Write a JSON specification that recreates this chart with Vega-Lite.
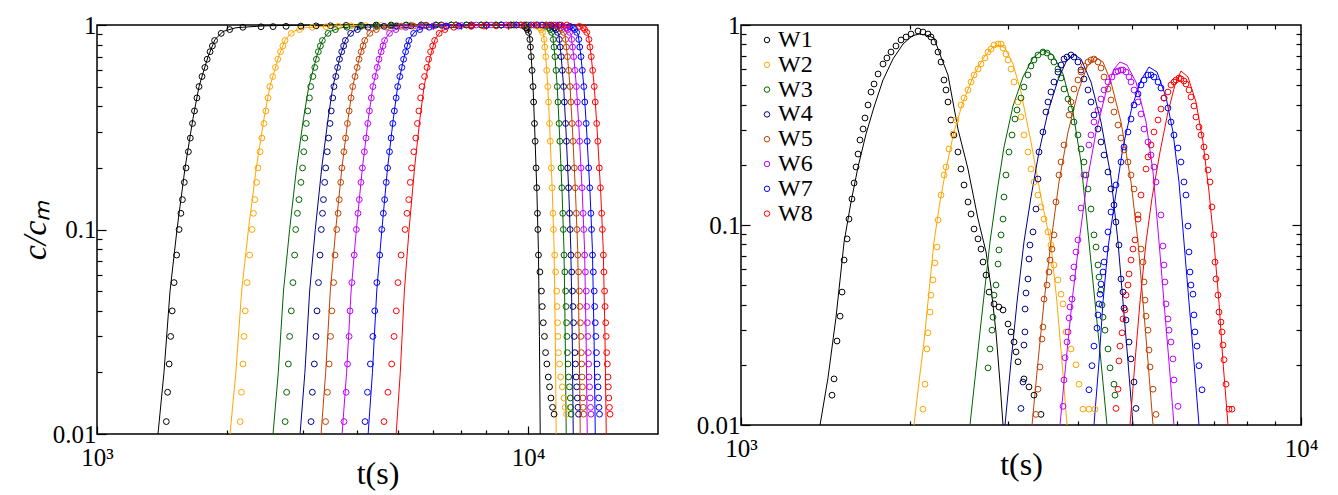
{
"$schema":"https://vega.github.io/schema/vega-lite/v6.json",
"background":"white",
"padding":{"left":17,"top":12,"right":5,"bottom":5},
"config":{"view":{"stroke":"black","strokeWidth":1.5},"font":"Liberation Serif",
"axis":{"labelFont":"Liberation Serif","titleFont":"Liberation Serif","labelColor":"black","titleColor":"black","tickColor":"black","labelFontSize":25,"titleFontSize":32,"titleFontWeight":"normal","domain":false,"grid":false,"tickWidth":1.2,"labelOverlap":false,"labelFlush":false}},
"datasets":{
"LL":[
{"s":"W1","t":1334,"c":0.004},{"s":"W1","t":1385,"c":0.01},{"s":"W1","t":1430,"c":0.02},{"s":"W1","t":1477,"c":0.05},{"s":"W1","t":1533,"c":0.1},{"s":"W1","t":1600,"c":0.2},{"s":"W1","t":1670,"c":0.35},{"s":"W1","t":1724,"c":0.5},{"s":"W1","t":1809,"c":0.7},{"s":"W1","t":1878,"c":0.85},{"s":"W1","t":1961,"c":0.93},{"s":"W1","t":2101,"c":0.97},{"s":"W1","t":2427,"c":0.99},{"s":"W1","t":3087,"c":1},{"s":"W1","t":9563,"c":1},{"s":"W1","t":9748,"c":0.99},{"s":"W1","t":9906,"c":0.97},{"s":"W1","t":10066,"c":0.9},{"s":"W1","t":10163,"c":0.7},{"s":"W1","t":10261,"c":0.5},{"s":"W1","t":10359,"c":0.3},{"s":"W1","t":10477,"c":0.15},{"s":"W1","t":10561,"c":0.08},{"s":"W1","t":10618,"c":0.03},{"s":"W1","t":10663,"c":0.01},{"s":"W1","t":10692,"c":0.004},
{"s":"W2","t":1963,"c":0.004},{"s":"W2","t":2035,"c":0.01},{"s":"W2","t":2099,"c":0.02},{"s":"W2","t":2165,"c":0.05},{"s":"W2","t":2245,"c":0.1},{"s":"W2","t":2341,"c":0.2},{"s":"W2","t":2440,"c":0.35},{"s":"W2","t":2517,"c":0.5},{"s":"W2","t":2637,"c":0.7},{"s":"W2","t":2734,"c":0.85},{"s":"W2","t":2850,"c":0.93},{"s":"W2","t":3049,"c":0.97},{"s":"W2","t":3508,"c":0.99},{"s":"W2","t":4428,"c":1},{"s":"W2","t":10229,"c":1},{"s":"W2","t":10459,"c":0.99},{"s":"W2","t":10657,"c":0.97},{"s":"W2","t":10858,"c":0.9},{"s":"W2","t":10981,"c":0.7},{"s":"W2","t":11105,"c":0.5},{"s":"W2","t":11230,"c":0.3},{"s":"W2","t":11378,"c":0.15},{"s":"W2","t":11485,"c":0.08},{"s":"W2","t":11558,"c":0.03},{"s":"W2","t":11614,"c":0.01},{"s":"W2","t":11649,"c":0.004},
{"s":"W3","t":2478,"c":0.004},{"s":"W3","t":2560,"c":0.01},{"s":"W3","t":2633,"c":0.02},{"s":"W3","t":2707,"c":0.05},{"s":"W3","t":2797,"c":0.1},{"s":"W3","t":2903,"c":0.2},{"s":"W3","t":3013,"c":0.35},{"s":"W3","t":3098,"c":0.5},{"s":"W3","t":3231,"c":0.7},{"s":"W3","t":3338,"c":0.85},{"s":"W3","t":3465,"c":0.93},{"s":"W3","t":3680,"c":0.97},{"s":"W3","t":4173,"c":0.99},{"s":"W3","t":5143,"c":1},{"s":"W3","t":10691,"c":1},{"s":"W3","t":10951,"c":0.99},{"s":"W3","t":11173,"c":0.97},{"s":"W3","t":11399,"c":0.9},{"s":"W3","t":11536,"c":0.7},{"s":"W3","t":11676,"c":0.5},{"s":"W3","t":11817,"c":0.3},{"s":"W3","t":11986,"c":0.15},{"s":"W3","t":12105,"c":0.08},{"s":"W3","t":12186,"c":0.03},{"s":"W3","t":12252,"c":0.01},{"s":"W3","t":12291,"c":0.004},
{"s":"W4","t":2871,"c":0.004},{"s":"W4","t":2958,"c":0.01},{"s":"W4","t":3035,"c":0.02},{"s":"W4","t":3113,"c":0.05},{"s":"W4","t":3208,"c":0.1},{"s":"W4","t":3320,"c":0.2},{"s":"W4","t":3436,"c":0.35},{"s":"W4","t":3525,"c":0.5},{"s":"W4","t":3662,"c":0.7},{"s":"W4","t":3774,"c":0.85},{"s":"W4","t":3905,"c":0.93},{"s":"W4","t":4129,"c":0.97},{"s":"W4","t":4634,"c":0.99},{"s":"W4","t":5617,"c":1},{"s":"W4","t":10998,"c":1},{"s":"W4","t":11284,"c":0.99},{"s":"W4","t":11527,"c":0.97},{"s":"W4","t":11777,"c":0.9},{"s":"W4","t":11928,"c":0.7},{"s":"W4","t":12082,"c":0.5},{"s":"W4","t":12239,"c":0.3},{"s":"W4","t":12424,"c":0.15},{"s":"W4","t":12557,"c":0.08},{"s":"W4","t":12652,"c":0.03},{"s":"W4","t":12719,"c":0.01},{"s":"W4","t":12760,"c":0.004},
{"s":"W5","t":3215,"c":0.004},{"s":"W5","t":3309,"c":0.01},{"s":"W5","t":3391,"c":0.02},{"s":"W5","t":3476,"c":0.05},{"s":"W5","t":3578,"c":0.1},{"s":"W5","t":3698,"c":0.2},{"s":"W5","t":3823,"c":0.35},{"s":"W5","t":3918,"c":0.5},{"s":"W5","t":4065,"c":0.7},{"s":"W5","t":4184,"c":0.85},{"s":"W5","t":4323,"c":0.93},{"s":"W5","t":4560,"c":0.97},{"s":"W5","t":5099,"c":0.99},{"s":"W5","t":6135,"c":1},{"s":"W5","t":11314,"c":1},{"s":"W5","t":11626,"c":0.99},{"s":"W5","t":11894,"c":0.97},{"s":"W5","t":12167,"c":0.9},{"s":"W5","t":12334,"c":0.7},{"s":"W5","t":12503,"c":0.5},{"s":"W5","t":12675,"c":0.3},{"s":"W5","t":12876,"c":0.15},{"s":"W5","t":13026,"c":0.08},{"s":"W5","t":13127,"c":0.03},{"s":"W5","t":13204,"c":0.01},{"s":"W5","t":13253,"c":0.004},
{"s":"W6","t":3599,"c":0.004},{"s":"W6","t":3702,"c":0.01},{"s":"W6","t":3792,"c":0.02},{"s":"W6","t":3884,"c":0.05},{"s":"W6","t":3995,"c":0.1},{"s":"W6","t":4126,"c":0.2},{"s":"W6","t":4260,"c":0.35},{"s":"W6","t":4364,"c":0.5},{"s":"W6","t":4524,"c":0.7},{"s":"W6","t":4652,"c":0.85},{"s":"W6","t":4804,"c":0.93},{"s":"W6","t":5061,"c":0.97},{"s":"W6","t":5639,"c":0.99},{"s":"W6","t":6755,"c":1},{"s":"W6","t":11639,"c":1},{"s":"W6","t":11980,"c":0.99},{"s":"W6","t":12272,"c":0.97},{"s":"W6","t":12571,"c":0.9},{"s":"W6","t":12753,"c":0.7},{"s":"W6","t":12939,"c":0.5},{"s":"W6","t":13127,"c":0.3},{"s":"W6","t":13350,"c":0.15},{"s":"W6","t":13512,"c":0.08},{"s":"W6","t":13623,"c":0.03},{"s":"W6","t":13708,"c":0.01},{"s":"W6","t":13759,"c":0.004},
{"s":"W7","t":4142,"c":0.004},{"s":"W7","t":4254,"c":0.01},{"s":"W7","t":4353,"c":0.02},{"s":"W7","t":4454,"c":0.05},{"s":"W7","t":4578,"c":0.1},{"s":"W7","t":4719,"c":0.2},{"s":"W7","t":4868,"c":0.35},{"s":"W7","t":4981,"c":0.5},{"s":"W7","t":5157,"c":0.7},{"s":"W7","t":5296,"c":0.85},{"s":"W7","t":5463,"c":0.93},{"s":"W7","t":5744,"c":0.97},{"s":"W7","t":6373,"c":0.99},{"s":"W7","t":7578,"c":1},{"s":"W7","t":12038,"c":1},{"s":"W7","t":12410,"c":0.99},{"s":"W7","t":12730,"c":0.97},{"s":"W7","t":13057,"c":0.9},{"s":"W7","t":13257,"c":0.7},{"s":"W7","t":13461,"c":0.5},{"s":"W7","t":13668,"c":0.3},{"s":"W7","t":13915,"c":0.15},{"s":"W7","t":14090,"c":0.08},{"s":"W7","t":14213,"c":0.03},{"s":"W7","t":14307,"c":0.01},{"s":"W7","t":14365,"c":0.004},
{"s":"W8","t":4816,"c":0.004},{"s":"W8","t":4941,"c":0.01},{"s":"W8","t":5051,"c":0.02},{"s":"W8","t":5162,"c":0.05},{"s":"W8","t":5293,"c":0.1},{"s":"W8","t":5451,"c":0.2},{"s":"W8","t":5611,"c":0.35},{"s":"W8","t":5735,"c":0.5},{"s":"W8","t":5925,"c":0.7},{"s":"W8","t":6080,"c":0.85},{"s":"W8","t":6258,"c":0.93},{"s":"W8","t":6559,"c":0.97},{"s":"W8","t":7237,"c":0.99},{"s":"W8","t":8524,"c":1},{"s":"W8","t":12651,"c":1},{"s":"W8","t":13064,"c":0.99},{"s":"W8","t":13418,"c":0.97},{"s":"W8","t":13781,"c":0.9},{"s":"W8","t":14004,"c":0.7},{"s":"W8","t":14231,"c":0.5},{"s":"W8","t":14460,"c":0.3},{"s":"W8","t":14733,"c":0.15},{"s":"W8","t":14931,"c":0.08},{"s":"W8","t":15068,"c":0.03},{"s":"W8","t":15172,"c":0.01},{"s":"W8","t":15237,"c":0.004}
],
"LP":[
{"s":"W1","t":1448,"c":0.0115},{"s":"W1","t":1458,"c":0.016},{"s":"W1","t":1470,"c":0.022},{"s":"W1","t":1482,"c":0.03},{"s":"W1","t":1494,"c":0.04},{"s":"W1","t":1509,"c":0.055},{"s":"W1","t":1530,"c":0.075},{"s":"W1","t":1550,"c":0.1},{"s":"W1","t":1578,"c":0.14},{"s":"W1","t":1609,"c":0.2},{"s":"W1","t":1646,"c":0.28},{"s":"W1","t":1683,"c":0.38},{"s":"W1","t":1724,"c":0.5},{"s":"W1","t":1779,"c":0.62},{"s":"W1","t":1829,"c":0.74},{"s":"W1","t":1874,"c":0.84},{"s":"W1","t":1941,"c":0.91},{"s":"W1","t":2031,"c":0.95},{"s":"W1","t":2179,"c":0.975},
{"s":"W1","t":1565,"c":0.12},{"s":"W1","t":1594,"c":0.17},{"s":"W1","t":1629,"c":0.24},{"s":"W1","t":1665,"c":0.33},{"s":"W1","t":1705,"c":0.44},{"s":"W1","t":1752,"c":0.56},{"s":"W1","t":1801,"c":0.68},{"s":"W1","t":1852,"c":0.79},
{"s":"W1","t":2401,"c":0.98},{"s":"W1","t":2745,"c":0.985},{"s":"W1","t":3222,"c":0.99},{"s":"W1","t":3782,"c":0.995},{"s":"W1","t":4440,"c":1},{"s":"W1","t":5212,"c":1},{"s":"W1","t":6119,"c":1},{"s":"W1","t":7183,"c":1},{"s":"W1","t":8433,"c":1},
{"s":"W1","t":2560,"c":0.982},{"s":"W1","t":2970,"c":0.988},{"s":"W1","t":3480,"c":0.992},{"s":"W1","t":4100,"c":0.997},{"s":"W1","t":4810,"c":1},{"s":"W1","t":5650,"c":1},{"s":"W1","t":6630,"c":1},{"s":"W1","t":7780,"c":1},{"s":"W1","t":9100,"c":1},
{"s":"W1","t":9786,"c":0.985},{"s":"W1","t":9950,"c":0.95},{"s":"W1","t":10089,"c":0.85},{"s":"W1","t":10163,"c":0.7},{"s":"W1","t":10261,"c":0.5},{"s":"W1","t":10342,"c":0.33},{"s":"W1","t":10429,"c":0.2},{"s":"W1","t":10506,"c":0.12},{"s":"W1","t":10564,"c":0.075},{"s":"W1","t":10731,"c":0.05},{"s":"W1","t":10839,"c":0.035},{"s":"W1","t":10972,"c":0.025},{"s":"W1","t":11131,"c":0.019},{"s":"W1","t":11291,"c":0.015},{"s":"W1","t":11482,"c":0.0125},
{"s":"W1","t":9906,"c":0.97},{"s":"W1","t":10018,"c":0.92},{"s":"W1","t":10121,"c":0.78},{"s":"W1","t":10209,"c":0.6},{"s":"W1","t":10294,"c":0.42},{"s":"W1","t":10378,"c":0.27},{"s":"W1","t":10465,"c":0.16},{"s":"W1","t":10531,"c":0.1},{"s":"W1","t":10644,"c":0.062},{"s":"W1","t":10781,"c":0.042},{"s":"W1","t":10907,"c":0.03},{"s":"W1","t":11048,"c":0.022},{"s":"W1","t":11207,"c":0.017},{"s":"W1","t":11387,"c":0.0135},
{"s":"W2","t":2148,"c":0.0115},{"s":"W2","t":2163,"c":0.016},{"s":"W2","t":2180,"c":0.022},{"s":"W2","t":2192,"c":0.03},{"s":"W2","t":2207,"c":0.04},{"s":"W2","t":2229,"c":0.055},{"s":"W2","t":2259,"c":0.075},{"s":"W2","t":2289,"c":0.1},{"s":"W2","t":2322,"c":0.14},{"s":"W2","t":2362,"c":0.2},{"s":"W2","t":2412,"c":0.28},{"s":"W2","t":2464,"c":0.38},{"s":"W2","t":2516,"c":0.5},{"s":"W2","t":2593,"c":0.62},{"s":"W2","t":2664,"c":0.74},{"s":"W2","t":2729,"c":0.84},{"s":"W2","t":2822,"c":0.91},{"s":"W2","t":2949,"c":0.95},{"s":"W2","t":3158,"c":0.975},
{"s":"W2","t":2306,"c":0.12},{"s":"W2","t":2344,"c":0.17},{"s":"W2","t":2389,"c":0.24},{"s":"W2","t":2439,"c":0.33},{"s":"W2","t":2492,"c":0.44},{"s":"W2","t":2556,"c":0.56},{"s":"W2","t":2626,"c":0.68},{"s":"W2","t":2698,"c":0.79},
{"s":"W2","t":3399,"c":0.98},{"s":"W2","t":3884,"c":0.99},{"s":"W2","t":4560,"c":0.995},{"s":"W2","t":5353,"c":1},{"s":"W2","t":6285,"c":1},{"s":"W2","t":7377,"c":1},{"s":"W2","t":8661,"c":1},{"s":"W2","t":9895,"c":1},
{"s":"W2","t":3630,"c":0.985},{"s":"W2","t":4200,"c":0.992},{"s":"W2","t":4950,"c":0.997},{"s":"W2","t":5800,"c":1},{"s":"W2","t":6800,"c":1},{"s":"W2","t":8000,"c":1},{"s":"W2","t":9300,"c":1},
{"s":"W2","t":10507,"c":0.985},{"s":"W2","t":10714,"c":0.95},{"s":"W2","t":10888,"c":0.85},{"s":"W2","t":10981,"c":0.7},{"s":"W2","t":11105,"c":0.5},{"s":"W2","t":11207,"c":0.33},{"s":"W2","t":11316,"c":0.2},{"s":"W2","t":11416,"c":0.12},{"s":"W2","t":11521,"c":0.075},{"s":"W2","t":11643,"c":0.05},{"s":"W2","t":11701,"c":0.035},{"s":"W2","t":11755,"c":0.025},{"s":"W2","t":11895,"c":0.019},{"s":"W2","t":12100,"c":0.015},{"s":"W2","t":12273,"c":0.0125},
{"s":"W2","t":10657,"c":0.97},{"s":"W2","t":10797,"c":0.92},{"s":"W2","t":10928,"c":0.78},{"s":"W2","t":11038,"c":0.6},{"s":"W2","t":11147,"c":0.42},{"s":"W2","t":11252,"c":0.27},{"s":"W2","t":11365,"c":0.16},{"s":"W2","t":11447,"c":0.1},{"s":"W2","t":11578,"c":0.062},{"s":"W2","t":11669,"c":0.042},{"s":"W2","t":11725,"c":0.03},{"s":"W2","t":11823,"c":0.022},{"s":"W2","t":11996,"c":0.017},{"s":"W2","t":12183,"c":0.0135},
{"s":"W3","t":2731,"c":0.0115},{"s":"W3","t":2753,"c":0.016},{"s":"W3","t":2778,"c":0.022},{"s":"W3","t":2797,"c":0.03},{"s":"W3","t":2822,"c":0.04},{"s":"W3","t":2847,"c":0.055},{"s":"W3","t":2873,"c":0.075},{"s":"W3","t":2889,"c":0.1},{"s":"W3","t":2940,"c":0.14},{"s":"W3","t":2997,"c":0.2},{"s":"W3","t":3033,"c":0.28},{"s":"W3","t":3081,"c":0.38},{"s":"W3","t":3131,"c":0.5},{"s":"W3","t":3200,"c":0.62},{"s":"W3","t":3261,"c":0.74},{"s":"W3","t":3332,"c":0.84},{"s":"W3","t":3434,"c":0.91},{"s":"W3","t":3572,"c":0.95},{"s":"W3","t":3798,"c":0.975},
{"s":"W3","t":2916,"c":0.12},{"s":"W3","t":2971,"c":0.17},{"s":"W3","t":3017,"c":0.24},{"s":"W3","t":3058,"c":0.33},{"s":"W3","t":3109,"c":0.44},{"s":"W3","t":3167,"c":0.56},{"s":"W3","t":3227,"c":0.68},{"s":"W3","t":3297,"c":0.79},
{"s":"W3","t":4098,"c":0.985},{"s":"W3","t":4811,"c":0.99},{"s":"W3","t":5647,"c":1},{"s":"W3","t":6630,"c":1},{"s":"W3","t":7783,"c":1},{"s":"W3","t":9136,"c":1},{"s":"W3","t":10437,"c":1},
{"s":"W3","t":4450,"c":0.988},{"s":"W3","t":5200,"c":0.995},{"s":"W3","t":6100,"c":1},{"s":"W3","t":7200,"c":1},{"s":"W3","t":8400,"c":1},{"s":"W3","t":9800,"c":1},
{"s":"W3","t":11004,"c":0.985},{"s":"W3","t":11236,"c":0.95},{"s":"W3","t":11431,"c":0.85},{"s":"W3","t":11536,"c":0.7},{"s":"W3","t":11676,"c":0.5},{"s":"W3","t":11792,"c":0.33},{"s":"W3","t":11916,"c":0.2},{"s":"W3","t":12027,"c":0.12},{"s":"W3","t":12111,"c":0.075},{"s":"W3","t":12211,"c":0.05},{"s":"W3","t":12273,"c":0.035},{"s":"W3","t":12330,"c":0.025},{"s":"W3","t":12412,"c":0.019},{"s":"W3","t":12526,"c":0.015},{"s":"W3","t":12571,"c":0.0125},
{"s":"W3","t":11173,"c":0.97},{"s":"W3","t":11330,"c":0.92},{"s":"W3","t":11478,"c":0.78},{"s":"W3","t":11601,"c":0.6},{"s":"W3","t":11723,"c":0.42},{"s":"W3","t":11843,"c":0.27},{"s":"W3","t":11969,"c":0.16},{"s":"W3","t":12062,"c":0.1},{"s":"W3","t":12160,"c":0.062},{"s":"W3","t":12237,"c":0.042},{"s":"W3","t":12299,"c":0.03},{"s":"W3","t":12371,"c":0.022},{"s":"W3","t":12465,"c":0.017},{"s":"W3","t":12546,"c":0.0135},
{"s":"W4","t":3136,"c":0.0115},{"s":"W4","t":3158,"c":0.016},{"s":"W4","t":3192,"c":0.022},{"s":"W4","t":3220,"c":0.03},{"s":"W4","t":3238,"c":0.04},{"s":"W4","t":3263,"c":0.055},{"s":"W4","t":3290,"c":0.075},{"s":"W4","t":3313,"c":0.1},{"s":"W4","t":3351,"c":0.14},{"s":"W4","t":3391,"c":0.2},{"s":"W4","t":3444,"c":0.28},{"s":"W4","t":3493,"c":0.38},{"s":"W4","t":3544,"c":0.5},{"s":"W4","t":3613,"c":0.62},{"s":"W4","t":3694,"c":0.74},{"s":"W4","t":3767,"c":0.84},{"s":"W4","t":3874,"c":0.91},{"s":"W4","t":4017,"c":0.95},{"s":"W4","t":4251,"c":0.975},
{"s":"W4","t":3334,"c":0.12},{"s":"W4","t":3373,"c":0.17},{"s":"W4","t":3420,"c":0.24},{"s":"W4","t":3470,"c":0.33},{"s":"W4","t":3521,"c":0.44},{"s":"W4","t":3580,"c":0.56},{"s":"W4","t":3650,"c":0.68},{"s":"W4","t":3732,"c":0.79},
{"s":"W4","t":4634,"c":0.985},{"s":"W4","t":5353,"c":0.99},{"s":"W4","t":6285,"c":1},{"s":"W4","t":7377,"c":1},{"s":"W4","t":8661,"c":1},{"s":"W4","t":9895,"c":1},
{"s":"W4","t":4950,"c":0.988},{"s":"W4","t":5800,"c":0.995},{"s":"W4","t":6800,"c":1},{"s":"W4","t":8000,"c":1},{"s":"W4","t":9250,"c":1},{"s":"W4","t":10500,"c":1},
{"s":"W4","t":11342,"c":0.985},{"s":"W4","t":11598,"c":0.95},{"s":"W4","t":11811,"c":0.85},{"s":"W4","t":11928,"c":0.7},{"s":"W4","t":12082,"c":0.5},{"s":"W4","t":12210,"c":0.33},{"s":"W4","t":12346,"c":0.2},{"s":"W4","t":12471,"c":0.12},{"s":"W4","t":12563,"c":0.075},{"s":"W4","t":12669,"c":0.05},{"s":"W4","t":12736,"c":0.035},{"s":"W4","t":12832,"c":0.025},{"s":"W4","t":12917,"c":0.019},{"s":"W4","t":13003,"c":0.015},{"s":"W4","t":13084,"c":0.0125},
{"s":"W4","t":11527,"c":0.97},{"s":"W4","t":11701,"c":0.92},{"s":"W4","t":11863,"c":0.78},{"s":"W4","t":12001,"c":0.6},{"s":"W4","t":12134,"c":0.42},{"s":"W4","t":12266,"c":0.27},{"s":"W4","t":12406,"c":0.16},{"s":"W4","t":12509,"c":0.1},{"s":"W4","t":12615,"c":0.062},{"s":"W4","t":12699,"c":0.042},{"s":"W4","t":12785,"c":0.03},{"s":"W4","t":12874,"c":0.022},{"s":"W4","t":12960,"c":0.017},{"s":"W4","t":13045,"c":0.0135},
{"s":"W5","t":3389,"c":0.0115},{"s":"W5","t":3423,"c":0.016},{"s":"W5","t":3455,"c":0.022},{"s":"W5","t":3481,"c":0.03},{"s":"W5","t":3505,"c":0.04},{"s":"W5","t":3538,"c":0.055},{"s":"W5","t":3565,"c":0.075},{"s":"W5","t":3597,"c":0.1},{"s":"W5","t":3646,"c":0.14},{"s":"W5","t":3698,"c":0.2},{"s":"W5","t":3771,"c":0.28},{"s":"W5","t":3844,"c":0.38},{"s":"W5","t":3918,"c":0.5},{"s":"W5","t":4012,"c":0.62},{"s":"W5","t":4099,"c":0.74},{"s":"W5","t":4178,"c":0.84},{"s":"W5","t":4291,"c":0.91},{"s":"W5","t":4443,"c":0.95},{"s":"W5","t":4692,"c":0.975},
{"s":"W5","t":3624,"c":0.12},{"s":"W5","t":3675,"c":0.17},{"s":"W5","t":3737,"c":0.24},{"s":"W5","t":3809,"c":0.33},{"s":"W5","t":3883,"c":0.44},{"s":"W5","t":3966,"c":0.56},{"s":"W5","t":4052,"c":0.68},{"s":"W5","t":4140,"c":0.79},
{"s":"W5","t":5075,"c":0.985},{"s":"W5","t":5800,"c":0.99},{"s":"W5","t":6809,"c":1},{"s":"W5","t":7994,"c":1},{"s":"W5","t":9380,"c":1},{"s":"W5","t":10720,"c":1},
{"s":"W5","t":5420,"c":0.988},{"s":"W5","t":6300,"c":0.995},{"s":"W5","t":7400,"c":1},{"s":"W5","t":8650,"c":1},{"s":"W5","t":10000,"c":1},{"s":"W5","t":11200,"c":1},
{"s":"W5","t":11691,"c":0.985},{"s":"W5","t":11971,"c":0.95},{"s":"W5","t":12205,"c":0.85},{"s":"W5","t":12334,"c":0.7},{"s":"W5","t":12503,"c":0.5},{"s":"W5","t":12643,"c":0.33},{"s":"W5","t":12795,"c":0.2},{"s":"W5","t":12931,"c":0.12},{"s":"W5","t":13032,"c":0.075},{"s":"W5","t":13143,"c":0.05},{"s":"W5","t":13217,"c":0.035},{"s":"W5","t":13282,"c":0.025},{"s":"W5","t":13336,"c":0.019},{"s":"W5","t":13389,"c":0.015},{"s":"W5","t":13438,"c":0.0125},
{"s":"W5","t":11894,"c":0.97},{"s":"W5","t":12083,"c":0.92},{"s":"W5","t":12261,"c":0.78},{"s":"W5","t":12413,"c":0.6},{"s":"W5","t":12561,"c":0.42},{"s":"W5","t":12705,"c":0.27},{"s":"W5","t":12858,"c":0.16},{"s":"W5","t":12973,"c":0.1},{"s":"W5","t":13087,"c":0.062},{"s":"W5","t":13177,"c":0.042},{"s":"W5","t":13247,"c":0.03},{"s":"W5","t":13305,"c":0.022},{"s":"W5","t":13358,"c":0.017},{"s":"W5","t":13411,"c":0.0135},
{"s":"W6","t":3740,"c":0.0115},{"s":"W6","t":3783,"c":0.016},{"s":"W6","t":3811,"c":0.022},{"s":"W6","t":3843,"c":0.03},{"s":"W6","t":3862,"c":0.04},{"s":"W6","t":3900,"c":0.055},{"s":"W6","t":3949,"c":0.075},{"s":"W6","t":3995,"c":0.1},{"s":"W6","t":4058,"c":0.14},{"s":"W6","t":4126,"c":0.2},{"s":"W6","t":4206,"c":0.28},{"s":"W6","t":4284,"c":0.38},{"s":"W6","t":4364,"c":0.5},{"s":"W6","t":4466,"c":0.62},{"s":"W6","t":4560,"c":0.74},{"s":"W6","t":4645,"c":0.84},{"s":"W6","t":4768,"c":0.91},{"s":"W6","t":4933,"c":0.95},{"s":"W6","t":5201,"c":0.975},
{"s":"W6","t":4029,"c":0.12},{"s":"W6","t":4094,"c":0.17},{"s":"W6","t":4169,"c":0.24},{"s":"W6","t":4246,"c":0.33},{"s":"W6","t":4327,"c":0.44},{"s":"W6","t":4416,"c":0.56},{"s":"W6","t":4509,"c":0.68},{"s":"W6","t":4605,"c":0.79},
{"s":"W6","t":5647,"c":0.985},{"s":"W6","t":6455,"c":0.99},{"s":"W6","t":7578,"c":1},{"s":"W6","t":8895,"c":1},{"s":"W6","t":10437,"c":1},
{"s":"W6","t":6020,"c":0.988},{"s":"W6","t":7000,"c":0.995},{"s":"W6","t":8200,"c":1},{"s":"W6","t":9600,"c":1},{"s":"W6","t":11000,"c":1},{"s":"W6","t":11600,"c":1},
{"s":"W6","t":12050,"c":0.985},{"s":"W6","t":12355,"c":0.95},{"s":"W6","t":12613,"c":0.85},{"s":"W6","t":12753,"c":0.7},{"s":"W6","t":12939,"c":0.5},{"s":"W6","t":13092,"c":0.33},{"s":"W6","t":13257,"c":0.2},{"s":"W6","t":13407,"c":0.12},{"s":"W6","t":13519,"c":0.075},{"s":"W6","t":13637,"c":0.05},{"s":"W6","t":13714,"c":0.035},{"s":"W6","t":13784,"c":0.025},{"s":"W6","t":13842,"c":0.019},{"s":"W6","t":13920,"c":0.015},{"s":"W6","t":13987,"c":0.0125},
{"s":"W6","t":12272,"c":0.97},{"s":"W6","t":12480,"c":0.92},{"s":"W6","t":12673,"c":0.78},{"s":"W6","t":12839,"c":0.6},{"s":"W6","t":13001,"c":0.42},{"s":"W6","t":13160,"c":0.27},{"s":"W6","t":13330,"c":0.16},{"s":"W6","t":13454,"c":0.1},{"s":"W6","t":13576,"c":0.062},{"s":"W6","t":13672,"c":0.042},{"s":"W6","t":13747,"c":0.03},{"s":"W6","t":13808,"c":0.022},{"s":"W6","t":13880,"c":0.017},{"s":"W6","t":13950,"c":0.0135},
{"s":"W7","t":4184,"c":0.0115},{"s":"W7","t":4239,"c":0.016},{"s":"W7","t":4306,"c":0.022},{"s":"W7","t":4363,"c":0.03},{"s":"W7","t":4407,"c":0.04},{"s":"W7","t":4457,"c":0.055},{"s":"W7","t":4526,"c":0.075},{"s":"W7","t":4577,"c":0.1},{"s":"W7","t":4646,"c":0.14},{"s":"W7","t":4720,"c":0.2},{"s":"W7","t":4808,"c":0.28},{"s":"W7","t":4894,"c":0.38},{"s":"W7","t":4981,"c":0.5},{"s":"W7","t":5094,"c":0.62},{"s":"W7","t":5196,"c":0.74},{"s":"W7","t":5289,"c":0.84},{"s":"W7","t":5423,"c":0.91},{"s":"W7","t":5604,"c":0.95},{"s":"W7","t":5896,"c":0.975},
{"s":"W7","t":4614,"c":0.12},{"s":"W7","t":4686,"c":0.17},{"s":"W7","t":4768,"c":0.24},{"s":"W7","t":4853,"c":0.33},{"s":"W7","t":4941,"c":0.44},{"s":"W7","t":5039,"c":0.56},{"s":"W7","t":5141,"c":0.68},{"s":"W7","t":5245,"c":0.79},
{"s":"W7","t":6455,"c":0.985},{"s":"W7","t":7377,"c":0.99},{"s":"W7","t":8661,"c":1},{"s":"W7","t":10163,"c":1},{"s":"W7","t":11308,"c":1},
{"s":"W7","t":6900,"c":0.988},{"s":"W7","t":8000,"c":0.995},{"s":"W7","t":9400,"c":1},{"s":"W7","t":10800,"c":1},{"s":"W7","t":11800,"c":1},
{"s":"W7","t":12486,"c":0.985},{"s":"W7","t":12820,"c":0.95},{"s":"W7","t":13103,"c":0.85},{"s":"W7","t":13257,"c":0.7},{"s":"W7","t":13461,"c":0.5},{"s":"W7","t":13629,"c":0.33},{"s":"W7","t":13811,"c":0.2},{"s":"W7","t":13976,"c":0.12},{"s":"W7","t":14099,"c":0.075},{"s":"W7","t":14225,"c":0.05},{"s":"W7","t":14307,"c":0.035},{"s":"W7","t":14396,"c":0.025},{"s":"W7","t":14482,"c":0.019},{"s":"W7","t":14564,"c":0.015},{"s":"W7","t":14635,"c":0.0125},
{"s":"W7","t":12730,"c":0.97},{"s":"W7","t":12958,"c":0.92},{"s":"W7","t":13169,"c":0.78},{"s":"W7","t":13352,"c":0.6},{"s":"W7","t":13530,"c":0.42},{"s":"W7","t":13705,"c":0.27},{"s":"W7","t":13890,"c":0.16},{"s":"W7","t":14026,"c":0.1},{"s":"W7","t":14160,"c":0.062},{"s":"W7","t":14262,"c":0.042},{"s":"W7","t":14349,"c":0.03},{"s":"W7","t":14438,"c":0.022},{"s":"W7","t":14522,"c":0.017},{"s":"W7","t":14597,"c":0.0135},
{"s":"W8","t":4630,"c":0.0115},{"s":"W8","t":4728,"c":0.016},{"s":"W8","t":4824,"c":0.022},{"s":"W8","t":4886,"c":0.03},{"s":"W8","t":4945,"c":0.04},{"s":"W8","t":4989,"c":0.055},{"s":"W8","t":5073,"c":0.075},{"s":"W8","t":5182,"c":0.1},{"s":"W8","t":5284,"c":0.14},{"s":"W8","t":5364,"c":0.2},{"s":"W8","t":5487,"c":0.28},{"s":"W8","t":5579,"c":0.38},{"s":"W8","t":5674,"c":0.5},{"s":"W8","t":5826,"c":0.62},{"s":"W8","t":5937,"c":0.74},{"s":"W8","t":6069,"c":0.84},{"s":"W8","t":6215,"c":0.91},{"s":"W8","t":6410,"c":0.95},{"s":"W8","t":6725,"c":0.975},
{"s":"W8","t":5236,"c":0.12},{"s":"W8","t":5327,"c":0.17},{"s":"W8","t":5429,"c":0.24},{"s":"W8","t":5535,"c":0.33},{"s":"W8","t":5630,"c":0.44},{"s":"W8","t":5751,"c":0.56},{"s":"W8","t":5877,"c":0.68},{"s":"W8","t":6005,"c":0.79},
{"s":"W8","t":7377,"c":0.985},{"s":"W8","t":8433,"c":0.99},{"s":"W8","t":9634,"c":1},{"s":"W8","t":11010,"c":1},{"s":"W8","t":11928,"c":1},
{"s":"W8","t":7900,"c":0.988},{"s":"W8","t":9000,"c":0.995},{"s":"W8","t":10300,"c":1},{"s":"W8","t":11450,"c":1},{"s":"W8","t":12300,"c":1},
{"s":"W8","t":13149,"c":0.985},{"s":"W8","t":13519,"c":0.95},{"s":"W8","t":13833,"c":0.85},{"s":"W8","t":14004,"c":0.7},{"s":"W8","t":14231,"c":0.5},{"s":"W8","t":14417,"c":0.33},{"s":"W8","t":14619,"c":0.2},{"s":"W8","t":14804,"c":0.12},{"s":"W8","t":14940,"c":0.075},{"s":"W8","t":15037,"c":0.05},{"s":"W8","t":15127,"c":0.035},{"s":"W8","t":15206,"c":0.025},{"s":"W8","t":15315,"c":0.019},{"s":"W8","t":15378,"c":0.015},{"s":"W8","t":15478,"c":0.0125},
{"s":"W8","t":13418,"c":0.97},{"s":"W8","t":13671,"c":0.92},{"s":"W8","t":13908,"c":0.78},{"s":"W8","t":14110,"c":0.6},{"s":"W8","t":14307,"c":0.42},{"s":"W8","t":14501,"c":0.27},{"s":"W8","t":14708,"c":0.16},{"s":"W8","t":14861,"c":0.1},{"s":"W8","t":14983,"c":0.062},{"s":"W8","t":15079,"c":0.042},{"s":"W8","t":15164,"c":0.03},{"s":"W8","t":15259,"c":0.022},{"s":"W8","t":15341,"c":0.017},{"s":"W8","t":15430,"c":0.0135}
],
"RL":[
{"s":"W1","t":1367,"c":0.00733},{"s":"W1","t":1384,"c":0.01},{"s":"W1","t":1430,"c":0.0172},{"s":"W1","t":1478,"c":0.0346},{"s":"W1","t":1528,"c":0.0822},{"s":"W1","t":1572,"c":0.1303},{"s":"W1","t":1618,"c":0.195},{"s":"W1","t":1672,"c":0.2851},{"s":"W1","t":1728,"c":0.3891},{"s":"W1","t":1793,"c":0.5309},{"s":"W1","t":1868,"c":0.6761},{"s":"W1","t":1947,"c":0.8035},{"s":"W1","t":2020,"c":0.8811},{"s":"W1","t":2079,"c":0.9016},{"s":"W1","t":2140,"c":0.8913},{"s":"W1","t":2211,"c":0.861},{"s":"W1","t":2276,"c":0.6918},{"s":"W1","t":2342,"c":0.5623},{"s":"W1","t":2440,"c":0.302},{"s":"W1","t":2543,"c":0.1905},{"s":"W1","t":2650,"c":0.1071},{"s":"W1","t":2739,"c":0.0733},{"s":"W1","t":2795,"c":0.049},{"s":"W1","t":2853,"c":0.0292},{"s":"W1","t":2900,"c":0.0164},{"s":"W1","t":2937,"c":0.01},{"s":"W1","t":2961,"c":0.00733},
{"s":"W2","t":2012,"c":0.00733},{"s":"W2","t":2037,"c":0.01},{"s":"W2","t":2079,"c":0.0164},{"s":"W2","t":2122,"c":0.026},{"s":"W2","t":2166,"c":0.0462},{"s":"W2","t":2211,"c":0.0822},{"s":"W2","t":2266,"c":0.1303},{"s":"W2","t":2323,"c":0.1905},{"s":"W2","t":2400,"c":0.2917},{"s":"W2","t":2491,"c":0.4121},{"s":"W2","t":2596,"c":0.5495},{"s":"W2","t":2716,"c":0.6918},{"s":"W2","t":2818,"c":0.7762},{"s":"W2","t":2888,"c":0.7943},{"s":"W2","t":2961,"c":0.7673},{"s":"W2","t":3060,"c":0.6382},{"s":"W2","t":3162,"c":0.4624},{"s":"W2","t":3295,"c":0.26},{"s":"W2","t":3433,"c":0.138},{"s":"W2","t":3577,"c":0.0794},{"s":"W2","t":3666,"c":0.0412},{"s":"W2","t":3743,"c":0.0207},{"s":"W2","t":3821,"c":0.01},{"s":"W2","t":3853,"c":0.00733},
{"s":"W3","t":2543,"c":0.00733},{"s":"W3","t":2564,"c":0.01},{"s":"W3","t":2618,"c":0.0172},{"s":"W3","t":2672,"c":0.0292},{"s":"W3","t":2727,"c":0.049},{"s":"W3","t":2784,"c":0.0822},{"s":"W3","t":2865,"c":0.1462},{"s":"W3","t":2949,"c":0.2455},{"s":"W3","t":3060,"c":0.3936},{"s":"W3","t":3188,"c":0.5495},{"s":"W3","t":3322,"c":0.6839},{"s":"W3","t":3461,"c":0.7499},{"s":"W3","t":3607,"c":0.7079},{"s":"W3","t":3759,"c":0.5689},{"s":"W3","t":3916,"c":0.3673},{"s":"W3","t":4047,"c":0.2065},{"s":"W3","t":4182,"c":0.0822},{"s":"W3","t":4287,"c":0.0412},{"s":"W3","t":4394,"c":0.0207},{"s":"W3","t":4504,"c":0.01},{"s":"W3","t":4541,"c":0.00733},
{"s":"W4","t":2937,"c":0.00733},{"s":"W4","t":2961,"c":0.01},{"s":"W4","t":3035,"c":0.0207},{"s":"W4","t":3111,"c":0.0412},{"s":"W4","t":3201,"c":0.0822},{"s":"W4","t":3295,"c":0.138},{"s":"W4","t":3405,"c":0.2317},{"s":"W4","t":3533,"c":0.3673},{"s":"W4","t":3681,"c":0.5309},{"s":"W4","t":3805,"c":0.6531},{"s":"W4","t":3916,"c":0.7161},{"s":"W4","t":4047,"c":0.6761},{"s":"W4","t":4217,"c":0.5188},{"s":"W4","t":4394,"c":0.3273},{"s":"W4","t":4578,"c":0.1738},{"s":"W4","t":4712,"c":0.0822},{"s":"W4","t":4810,"c":0.0412},{"s":"W4","t":4910,"c":0.0207},{"s":"W4","t":5012,"c":0.01},{"s":"W4","t":5053,"c":0.00733},
{"s":"W5","t":3281,"c":0.00733},{"s":"W5","t":3309,"c":0.01},{"s":"W5","t":3391,"c":0.0207},{"s":"W5","t":3476,"c":0.0412},{"s":"W5","t":3577,"c":0.0822},{"s":"W5","t":3697,"c":0.1641},{"s":"W5","t":3837,"c":0.2917},{"s":"W5","t":3997,"c":0.4624},{"s":"W5","t":4148,"c":0.6166},{"s":"W5","t":4287,"c":0.6918},{"s":"W5","t":4430,"c":0.6531},{"s":"W5","t":4578,"c":0.5188},{"s":"W5","t":4771,"c":0.3273},{"s":"W5","t":4971,"c":0.1641},{"s":"W5","t":5116,"c":0.0822},{"s":"W5","t":5223,"c":0.0412},{"s":"W5","t":5331,"c":0.0207},{"s":"W5","t":5442,"c":0.01},{"s":"W5","t":5486,"c":0.00733},
{"s":"W6","t":3681,"c":0.00733},{"s":"W6","t":3712,"c":0.01},{"s":"W6","t":3805,"c":0.0207},{"s":"W6","t":3900,"c":0.0412},{"s":"W6","t":4014,"c":0.0822},{"s":"W6","t":4148,"c":0.1641},{"s":"W6","t":4305,"c":0.2917},{"s":"W6","t":4485,"c":0.4624},{"s":"W6","t":4635,"c":0.6025},{"s":"W6","t":4751,"c":0.6531},{"s":"W6","t":4890,"c":0.6309},{"s":"W6","t":5074,"c":0.5188},{"s":"W6","t":5288,"c":0.3273},{"s":"W6","t":5442,"c":0.1841},{"s":"W6","t":5578,"c":0.0822},{"s":"W6","t":5693,"c":0.0412},{"s":"W6","t":5811,"c":0.0207},{"s":"W6","t":5932,"c":0.01},{"s":"W6","t":5981,"c":0.00733},
{"s":"W7","t":4234,"c":0.00733},{"s":"W7","t":4269,"c":0.01},{"s":"W7","t":4358,"c":0.0207},{"s":"W7","t":4430,"c":0.0412},{"s":"W7","t":4522,"c":0.0767},{"s":"W7","t":4654,"c":0.1333},{"s":"W7","t":4810,"c":0.2455},{"s":"W7","t":4991,"c":0.3891},{"s":"W7","t":5180,"c":0.5309},{"s":"W7","t":5353,"c":0.6166},{"s":"W7","t":5532,"c":0.5821},{"s":"W7","t":5740,"c":0.4365},{"s":"W7","t":5907,"c":0.2917},{"s":"W7","t":6055,"c":0.1641},{"s":"W7","t":6181,"c":0.0822},{"s":"W7","t":6309,"c":0.0412},{"s":"W7","t":6440,"c":0.0207},{"s":"W7","t":6574,"c":0.01},{"s":"W7","t":6629,"c":0.00733},
{"s":"W8","t":4910,"c":0.00733},{"s":"W8","t":4951,"c":0.01},{"s":"W8","t":5053,"c":0.0207},{"s":"W8","t":5158,"c":0.0412},{"s":"W8","t":5288,"c":0.0822},{"s":"W8","t":5419,"c":0.1364},{"s":"W8","t":5600,"c":0.2317},{"s":"W8","t":5787,"c":0.3673},{"s":"W8","t":5956,"c":0.5012},{"s":"W8","t":6105,"c":0.5888},{"s":"W8","t":6283,"c":0.5495},{"s":"W8","t":6493,"c":0.4121},{"s":"W8","t":6684,"c":0.26},{"s":"W8","t":6851,"c":0.1462},{"s":"W8","t":6991,"c":0.0822},{"s":"W8","t":7137,"c":0.0412},{"s":"W8","t":7256,"c":0.0207},{"s":"W8","t":7407,"c":0.01},{"s":"W8","t":7468,"c":0.00733}
],
"RP":[
{"s":"W1","t":1454,"c":0.0141},{"s":"W1","t":1466,"c":0.017},{"s":"W1","t":1484,"c":0.0263},{"s":"W1","t":1503,"c":0.035},{"s":"W1","t":1515,"c":0.0462},{"s":"W1","t":1528,"c":0.0668},{"s":"W1","t":1547,"c":0.0852},{"s":"W1","t":1559,"c":0.1071},{"s":"W1","t":1578,"c":0.1349},{"s":"W1","t":1592,"c":0.1622},{"s":"W1","t":1605,"c":0.195},{"s":"W1","t":1631,"c":0.266},{"s":"W1","t":1652,"c":0.302},{"s":"W1","t":1665,"c":0.3428},{"s":"W1","t":1686,"c":0.3981},{"s":"W1","t":1707,"c":0.4624},{"s":"W1","t":1728,"c":0.507},{"s":"W1","t":1757,"c":0.5689},{"s":"W1","t":1793,"c":0.6382},{"s":"W1","t":1853,"c":0.7328},{"s":"W1","t":1891,"c":0.7852},{"s":"W1","t":1931,"c":0.8414},{"s":"W1","t":1971,"c":0.871},{"s":"W1","t":2012,"c":0.9016},{"s":"W1","t":2071,"c":0.9333},{"s":"W1","t":2113,"c":0.9226},{"s":"W1","t":2157,"c":0.9016},{"s":"W1","t":2184,"c":0.871},{"s":"W1","t":2211,"c":0.8222},{"s":"W1","t":2248,"c":0.7328},{"s":"W1","t":2276,"c":0.6531},{"s":"W1","t":2304,"c":0.5309},{"s":"W1","t":2342,"c":0.4121},{"s":"W1","t":2400,"c":0.2818},{"s":"W1","t":2471,"c":0.1905},{"s":"W1","t":2543,"c":0.1303},{"s":"W1","t":2607,"c":0.0955},{"s":"W1","t":2683,"c":0.0758},{"s":"W1","t":2705,"c":0.0653},{"s":"W1","t":2739,"c":0.0562},{"s":"W1","t":2773,"c":0.0462},{"s":"W1","t":2830,"c":0.0403},{"s":"W1","t":2888,"c":0.0389},{"s":"W1","t":2937,"c":0.0376},{"s":"W1","t":2998,"c":0.032},{"s":"W1","t":3035,"c":0.0292},{"s":"W1","t":3073,"c":0.026},{"s":"W1","t":3098,"c":0.0232},{"s":"W1","t":3124,"c":0.0207},{"s":"W1","t":3201,"c":0.017},{"s":"W1","t":3268,"c":0.0155},{"s":"W1","t":3336,"c":0.0141},{"s":"W1","t":3433,"c":0.0113},
{"s":"W1","t":2323,"c":0.4732},{"s":"W1","t":2371,"c":0.335},{"s":"W1","t":2440,"c":0.2317},{"s":"W1","t":2502,"c":0.1585},{"s":"W1","t":2575,"c":0.1135},{"s":"W1","t":2650,"c":0.0852},{"s":"W1","t":1618,"c":0.2264},{"s":"W1","t":1822,"c":0.6839},
{"s":"W2","t":2113,"c":0.012},{"s":"W2","t":2131,"c":0.016},{"s":"W2","t":2148,"c":0.024},{"s":"W2","t":2157,"c":0.0289},{"s":"W2","t":2175,"c":0.0367},{"s":"W2","t":2184,"c":0.0446},{"s":"W2","t":2202,"c":0.0531},{"s":"W2","t":2220,"c":0.0646},{"s":"W2","t":2239,"c":0.0776},{"s":"W2","t":2248,"c":0.1059},{"s":"W2","t":2276,"c":0.1412},{"s":"W2","t":2304,"c":0.1778},{"s":"W2","t":2323,"c":0.195},{"s":"W2","t":2352,"c":0.2399},{"s":"W2","t":2391,"c":0.2851},{"s":"W2","t":2420,"c":0.335},{"s":"W2","t":2471,"c":0.3981},{"s":"W2","t":2543,"c":0.4732},{"s":"W2","t":2607,"c":0.5623},{"s":"W2","t":2683,"c":0.6382},{"s":"W2","t":2761,"c":0.7328},{"s":"W2","t":2830,"c":0.7943},{"s":"W2","t":2877,"c":0.8035},{"s":"W2","t":2913,"c":0.8035},{"s":"W2","t":2973,"c":0.7161},{"s":"W2","t":3035,"c":0.6025},{"s":"W2","t":3124,"c":0.4121},{"s":"W2","t":3201,"c":0.2818},{"s":"W2","t":3295,"c":0.1905},{"s":"W2","t":3391,"c":0.1412},{"s":"W2","t":3476,"c":0.1071},{"s":"W2","t":3577,"c":0.0794},{"s":"W2","t":3621,"c":0.0631},{"s":"W2","t":3681,"c":0.0531},{"s":"W2","t":3728,"c":0.0451},{"s":"W2","t":3759,"c":0.0403},{"s":"W2","t":3805,"c":0.0292},{"s":"W2","t":3884,"c":0.024},{"s":"W2","t":3965,"c":0.02},{"s":"W2","t":4014,"c":0.016},{"s":"W2","t":4080,"c":0.012},{"s":"W2","t":4182,"c":0.012},{"s":"W2","t":4287,"c":0.012},
{"s":"W2","t":2502,"c":0.4315},{"s":"W2","t":2575,"c":0.5188},{"s":"W2","t":2650,"c":0.6025},{"s":"W2","t":2727,"c":0.6839},{"s":"W2","t":2795,"c":0.7585},{"s":"W2","t":2937,"c":0.7673},{"s":"W2","t":2998,"c":0.6683},{"s":"W2","t":3073,"c":0.5188},{"s":"W2","t":3162,"c":0.3467},{"s":"W2","t":3254,"c":0.2317},{"s":"W2","t":3336,"c":0.1641},{"s":"W2","t":3433,"c":0.123},{"s":"W2","t":3533,"c":0.0923},
{"s":"W3","t":2761,"c":0.0193},{"s":"W3","t":2784,"c":0.024},{"s":"W3","t":2807,"c":0.0298},{"s":"W3","t":2818,"c":0.0346},{"s":"W3","t":2830,"c":0.0446},{"s":"W3","t":2853,"c":0.0501},{"s":"W3","t":2877,"c":0.0638},{"s":"W3","t":2888,"c":0.075},{"s":"W3","t":2913,"c":0.0892},{"s":"W3","t":2937,"c":0.1071},{"s":"W3","t":2949,"c":0.138},{"s":"W3","t":2973,"c":0.1778},{"s":"W3","t":3010,"c":0.2317},{"s":"W3","t":3048,"c":0.2818},{"s":"W3","t":3085,"c":0.3389},{"s":"W3","t":3162,"c":0.4315},{"s":"W3","t":3254,"c":0.5623},{"s":"W3","t":3336,"c":0.6683},{"s":"W3","t":3391,"c":0.7079},{"s":"W3","t":3461,"c":0.7328},{"s":"W3","t":3519,"c":0.7244},{"s":"W3","t":3577,"c":0.6918},{"s":"W3","t":3681,"c":0.6025},{"s":"W3","t":3774,"c":0.4786},{"s":"W3","t":3884,"c":0.3802},{"s":"W3","t":3997,"c":0.2818},{"s":"W3","t":4097,"c":0.2065},{"s":"W3","t":4165,"c":0.1514},{"s":"W3","t":4217,"c":0.1202},{"s":"W3","t":4269,"c":0.0892},{"s":"W3","t":4305,"c":0.0776},{"s":"W3","t":4340,"c":0.0631},{"s":"W3","t":4358,"c":0.0549},{"s":"W3","t":4394,"c":0.0473},{"s":"W3","t":4412,"c":0.0398},{"s":"W3","t":4430,"c":0.0346},{"s":"W3","t":4467,"c":0.0298},{"s":"W3","t":4522,"c":0.024},{"s":"W3","t":4560,"c":0.0193},{"s":"W3","t":4635,"c":0.016},{"s":"W3","t":4654,"c":0.0141},
{"s":"W3","t":3111,"c":0.3758},{"s":"W3","t":3201,"c":0.4898},{"s":"W3","t":3295,"c":0.6237},{"s":"W3","t":3621,"c":0.6531},{"s":"W3","t":3728,"c":0.5433},{"s":"W3","t":3837,"c":0.4266},{"s":"W3","t":3932,"c":0.3273},{"s":"W3","t":4047,"c":0.2399},{"s":"W3","t":4131,"c":0.1778},
{"s":"W4","t":3162,"c":0.0121},{"s":"W4","t":3188,"c":0.0164},{"s":"W4","t":3201,"c":0.0251},{"s":"W4","t":3214,"c":0.0292},{"s":"W4","t":3216,"c":0.038},{"s":"W4","t":3228,"c":0.0457},{"s":"W4","t":3254,"c":0.0537},{"s":"W4","t":3268,"c":0.0676},{"s":"W4","t":3281,"c":0.0794},{"s":"W4","t":3322,"c":0.0923},{"s":"W4","t":3363,"c":0.1202},{"s":"W4","t":3391,"c":0.1698},{"s":"W4","t":3405,"c":0.2317},{"s":"W4","t":3461,"c":0.2917},{"s":"W4","t":3504,"c":0.3673},{"s":"W4","t":3577,"c":0.4624},{"s":"W4","t":3681,"c":0.5821},{"s":"W4","t":3774,"c":0.6761},{"s":"W4","t":3884,"c":0.7079},{"s":"W4","t":3997,"c":0.6531},{"s":"W4","t":4097,"c":0.537},{"s":"W4","t":4217,"c":0.4121},{"s":"W4","t":4340,"c":0.302},{"s":"W4","t":4449,"c":0.2238},{"s":"W4","t":4578,"c":0.1514},{"s":"W4","t":4673,"c":0.1035},{"s":"W4","t":4731,"c":0.0794},{"s":"W4","t":4771,"c":0.0537},{"s":"W4","t":4810,"c":0.0462},{"s":"W4","t":4830,"c":0.0384},{"s":"W4","t":4870,"c":0.0335},{"s":"W4","t":4931,"c":0.026},{"s":"W4","t":4971,"c":0.0214},{"s":"W4","t":5033,"c":0.0164},{"s":"W4","t":5074,"c":0.0121},
{"s":"W4","t":3533,"c":0.4121},{"s":"W4","t":3621,"c":0.5188},{"s":"W4","t":3728,"c":0.6309},{"s":"W4","t":3821,"c":0.6918},{"s":"W4","t":3932,"c":0.6918},{"s":"W4","t":4047,"c":0.5957},{"s":"W4","t":4165,"c":0.4732},{"s":"W4","t":4269,"c":0.3548},{"s":"W4","t":4394,"c":0.26},{"s":"W4","t":4522,"c":0.1841},{"s":"W4","t":4635,"c":0.1259},
{"s":"W5","t":3363,"c":0.0113},{"s":"W5","t":3391,"c":0.0151},{"s":"W5","t":3419,"c":0.0195},{"s":"W5","t":3447,"c":0.0269},{"s":"W5","t":3461,"c":0.0309},{"s":"W5","t":3476,"c":0.0426},{"s":"W5","t":3519,"c":0.0501},{"s":"W5","t":3548,"c":0.0582},{"s":"W5","t":3562,"c":0.0668},{"s":"W5","t":3592,"c":0.0758},{"s":"W5","t":3621,"c":0.0892},{"s":"W5","t":3651,"c":0.1303},{"s":"W5","t":3697,"c":0.1778},{"s":"W5","t":3774,"c":0.2512},{"s":"W5","t":3853,"c":0.3548},{"s":"W5","t":3932,"c":0.4786},{"s":"W5","t":4047,"c":0.5821},{"s":"W5","t":4165,"c":0.6531},{"s":"W5","t":4269,"c":0.6761},{"s":"W5","t":4394,"c":0.6095},{"s":"W5","t":4522,"c":0.4786},{"s":"W5","t":4635,"c":0.3673},{"s":"W5","t":4771,"c":0.2722},{"s":"W5","t":4910,"c":0.2065},{"s":"W5","t":5033,"c":0.1514},{"s":"W5","t":5116,"c":0.1122},{"s":"W5","t":5180,"c":0.0758},{"s":"W5","t":5223,"c":0.0653},{"s":"W5","t":5244,"c":0.0519},{"s":"W5","t":5266,"c":0.0421},{"s":"W5","t":5288,"c":0.035},{"s":"W5","t":5331,"c":0.0298},{"s":"W5","t":5353,"c":0.0237},{"s":"W5","t":5375,"c":0.0195},{"s":"W5","t":5442,"c":0.0151},{"s":"W5","t":5509,"c":0.0113},
{"s":"W5","t":3728,"c":0.2065},{"s":"W5","t":3884,"c":0.4121},{"s":"W5","t":3997,"c":0.5309},{"s":"W5","t":4097,"c":0.6237},{"s":"W5","t":4217,"c":0.6683},{"s":"W5","t":4340,"c":0.6531},{"s":"W5","t":4449,"c":0.5495},{"s":"W5","t":4578,"c":0.4217},{"s":"W5","t":4712,"c":0.3162},{"s":"W5","t":4830,"c":0.2371},{"s":"W5","t":4971,"c":0.1778},
{"s":"W6","t":3759,"c":0.0124},{"s":"W6","t":3774,"c":0.0168},{"s":"W6","t":3790,"c":0.0217},{"s":"W6","t":3821,"c":0.026},{"s":"W6","t":3837,"c":0.0292},{"s":"W6","t":3853,"c":0.0343},{"s":"W6","t":3869,"c":0.0389},{"s":"W6","t":3900,"c":0.0426},{"s":"W6","t":3916,"c":0.0543},{"s":"W6","t":3932,"c":0.0617},{"s":"W6","t":3965,"c":0.0733},{"s":"W6","t":3997,"c":0.0842},{"s":"W6","t":4047,"c":0.1216},{"s":"W6","t":4097,"c":0.1778},{"s":"W6","t":4182,"c":0.2512},{"s":"W6","t":4269,"c":0.3273},{"s":"W6","t":4394,"c":0.4266},{"s":"W6","t":4522,"c":0.5188},{"s":"W6","t":4673,"c":0.5821},{"s":"W6","t":4771,"c":0.5957},{"s":"W6","t":4870,"c":0.5821},{"s":"W6","t":4971,"c":0.5188},{"s":"W6","t":5116,"c":0.4121},{"s":"W6","t":5244,"c":0.302},{"s":"W6","t":5397,"c":0.2238},{"s":"W6","t":5509,"c":0.1641},{"s":"W6","t":5623,"c":0.1122},{"s":"W6","t":5669,"c":0.0785},{"s":"W6","t":5693,"c":0.0631},{"s":"W6","t":5716,"c":0.0519},{"s":"W6","t":5740,"c":0.0403},{"s":"W6","t":5787,"c":0.0339},{"s":"W6","t":5811,"c":0.0298},{"s":"W6","t":5859,"c":0.026},{"s":"W6","t":5907,"c":0.0214},{"s":"W6","t":5932,"c":0.0168},{"s":"W6","t":6030,"c":0.0124},
{"s":"W6","t":4217,"c":0.2818},{"s":"W6","t":4340,"c":0.3758},{"s":"W6","t":4449,"c":0.4732},{"s":"W6","t":4597,"c":0.5495},{"s":"W6","t":4712,"c":0.5888},{"s":"W6","t":4810,"c":0.5957},{"s":"W6","t":4931,"c":0.5495},{"s":"W6","t":5033,"c":0.4732},{"s":"W6","t":5180,"c":0.3589},{"s":"W6","t":5331,"c":0.26},{"s":"W6","t":5464,"c":0.195},
{"s":"W7","t":4182,"c":0.015},{"s":"W7","t":4234,"c":0.0198},{"s":"W7","t":4269,"c":0.0248},{"s":"W7","t":4322,"c":0.0305},{"s":"W7","t":4340,"c":0.0355},{"s":"W7","t":4358,"c":0.0403},{"s":"W7","t":4376,"c":0.0451},{"s":"W7","t":4394,"c":0.0507},{"s":"W7","t":4430,"c":0.0582},{"s":"W7","t":4449,"c":0.0653},{"s":"W7","t":4485,"c":0.0758},{"s":"W7","t":4522,"c":0.0923},{"s":"W7","t":4578,"c":0.1161},{"s":"W7","t":4673,"c":0.1585},{"s":"W7","t":4771,"c":0.2065},{"s":"W7","t":4910,"c":0.2917},{"s":"W7","t":5033,"c":0.3981},{"s":"W7","t":5180,"c":0.5012},{"s":"W7","t":5331,"c":0.5623},{"s":"W7","t":5464,"c":0.5495},{"s":"W7","t":5623,"c":0.4842},{"s":"W7","t":5787,"c":0.3846},{"s":"W7","t":5932,"c":0.2818},{"s":"W7","t":6105,"c":0.2065},{"s":"W7","t":6232,"c":0.1412},{"s":"W7","t":6283,"c":0.0988},{"s":"W7","t":6309,"c":0.0733},{"s":"W7","t":6335,"c":0.0582},{"s":"W7","t":6361,"c":0.0501},{"s":"W7","t":6414,"c":0.0451},{"s":"W7","t":6440,"c":0.0355},{"s":"W7","t":6467,"c":0.0292},{"s":"W7","t":6520,"c":0.0248},{"s":"W7","t":6574,"c":0.0198},{"s":"W7","t":6656,"c":0.015},
{"s":"W7","t":4830,"c":0.2455},{"s":"W7","t":4971,"c":0.3389},{"s":"W7","t":5116,"c":0.4519},{"s":"W7","t":5244,"c":0.5309},{"s":"W7","t":5397,"c":0.5623},{"s":"W7","t":5555,"c":0.5188},{"s":"W7","t":5693,"c":0.4315},{"s":"W7","t":5859,"c":0.3273},{"s":"W7","t":6030,"c":0.2426},{"s":"W7","t":6181,"c":0.1641},
{"s":"W8","t":4673,"c":0.0121},{"s":"W8","t":4712,"c":0.0151},{"s":"W8","t":4731,"c":0.0209},{"s":"W8","t":4751,"c":0.0248},{"s":"W8","t":4791,"c":0.0289},{"s":"W8","t":4810,"c":0.0339},{"s":"W8","t":4850,"c":0.0376},{"s":"W8","t":4870,"c":0.0446},{"s":"W8","t":4910,"c":0.0501},{"s":"W8","t":4931,"c":0.0569},{"s":"W8","t":4971,"c":0.0668},{"s":"W8","t":5012,"c":0.0758},{"s":"W8","t":5053,"c":0.0842},{"s":"W8","t":5116,"c":0.1071},{"s":"W8","t":5180,"c":0.1412},{"s":"W8","t":5288,"c":0.1905},{"s":"W8","t":5397,"c":0.2512},{"s":"W8","t":5555,"c":0.335},{"s":"W8","t":5693,"c":0.4315},{"s":"W8","t":5859,"c":0.5012},{"s":"W8","t":5981,"c":0.5309},{"s":"W8","t":6105,"c":0.537},{"s":"W8","t":6232,"c":0.507},{"s":"W8","t":6361,"c":0.4365},{"s":"W8","t":6493,"c":0.3467},{"s":"W8","t":6629,"c":0.2818},{"s":"W8","t":6767,"c":0.2188},{"s":"W8","t":6879,"c":0.1641},{"s":"W8","t":6934,"c":0.123},{"s":"W8","t":6991,"c":0.0892},{"s":"W8","t":7020,"c":0.0653},{"s":"W8","t":7049,"c":0.0537},{"s":"W8","t":7108,"c":0.0446},{"s":"W8","t":7137,"c":0.0367},{"s":"W8","t":7197,"c":0.0327},{"s":"W8","t":7227,"c":0.0292},{"s":"W8","t":7256,"c":0.0251},{"s":"W8","t":7286,"c":0.0212},{"s":"W8","t":7346,"c":0.016},{"s":"W8","t":7438,"c":0.012},{"s":"W8","t":7530,"c":0.012},
{"s":"W8","t":5331,"c":0.2188},{"s":"W8","t":5464,"c":0.2917},{"s":"W8","t":5623,"c":0.3802},{"s":"W8","t":5787,"c":0.4624},{"s":"W8","t":5932,"c":0.5188},{"s":"W8","t":6055,"c":0.5433},{"s":"W8","t":6181,"c":0.5248},{"s":"W8","t":6309,"c":0.4732},{"s":"W8","t":6440,"c":0.3936},{"s":"W8","t":6574,"c":0.309},{"s":"W8","t":6711,"c":0.2455},{"s":"W8","t":6823,"c":0.1883}
]
},
"spacing":36,
"resolve":{"scale":{"color":"independent"}},
"hconcat":[
{"width":561,"height":409,
"resolve":{"axis":{"x":"independent","y":"independent"}},
"layer":[
{"data":{"name":"LL"},"mark":{"type":"line","strokeWidth":1,"clip":true},
"encoding":{
"x":{"field":"t","type":"quantitative","scale":{"type":"log","domain":[1000,20000],"nice":false},
"axis":{"orient":"bottom","values":[1000,2000,3000,4000,5000,6000,7000,8000,9000,10000],"labelExpr":"datum.value == 1000 ? '10³' : datum.value == 10000 ? '10⁴' : ''","tickSize":{"condition":{"test":"datum.value == 1000 || datum.value == 10000","value":-8},"value":-4},"labelPadding":19,"title":"t(s)","titlePadding":-16}},
"y":{"field":"c","type":"quantitative","scale":{"type":"log","domain":[0.01,1],"nice":false},
"axis":{"orient":"left","values":[0.01,0.02,0.03,0.04,0.05,0.06,0.07,0.08,0.09,0.1,0.2,0.3,0.4,0.5,0.6,0.7,0.8,0.9,1],"labelExpr":"datum.value == 1 ? '1' : datum.value == 0.1 ? '0.1' : datum.value == 0.01 ? '0.01' : ''","tickSize":{"condition":{"test":"datum.value == 1 || datum.value == 0.1 || datum.value == 0.01","value":-9},"value":-5},"labelPadding":10,"title":"c/cₘ","titleFontStyle":"italic","titleFontSize":34,"titlePadding":0}},
"color":{"field":"s","type":"nominal","scale":{"domain":["W1","W2","W3","W4","W5","W6","W7","W8"],"range":["#000000","#ffa500","#006400","#00008b","#c04000","#c000ff","#0000ff","#ff0000"]},"legend":null}}},
{"data":{"name":"LP"},"mark":{"type":"point","shape":"circle","filled":false,"size":34,"strokeWidth":1,"opacity":1},
"encoding":{
"x":{"field":"t","type":"quantitative","scale":{"type":"log","domain":[1000,20000],"nice":false},
"axis":{"orient":"top","values":[2000,3000,4000,5000,6000,7000,8000,9000,10000],"labels":false,"tickSize":{"condition":{"test":"datum.value == 10000","value":-8},"value":-4},"title":null}},
"y":{"field":"c","type":"quantitative","scale":{"type":"log","domain":[0.01,1],"nice":false},"axis":null},
"color":{"field":"s","type":"nominal","scale":{"domain":["W1","W2","W3","W4","W5","W6","W7","W8"],"range":["#000000","#ffa500","#006400","#00008b","#c04000","#c000ff","#0000ff","#ff0000"]},"legend":null}}}
]},
{"width":560,"height":400,
"resolve":{"axis":{"x":"independent","y":"independent"}},
"layer":[
{"data":{"name":"RL"},"mark":{"type":"line","strokeWidth":1,"clip":true},
"encoding":{
"x":{"field":"t","type":"quantitative","scale":{"type":"log","domain":[1000,10000],"nice":false},
"axis":{"orient":"bottom","values":[1000,2000,3000,4000,5000,6000,7000,8000,9000,10000],"labelExpr":"datum.value == 1000 ? '10³' : datum.value == 10000 ? '10⁴' : ''","tickSize":{"condition":{"test":"datum.value == 1000 || datum.value == 10000","value":-8},"value":-4},"labelPadding":19,"title":"t(s)","titlePadding":-16}},
"y":{"field":"c","type":"quantitative","scale":{"type":"log","domain":[0.01,1],"nice":false},
"axis":{"orient":"left","values":[0.01,0.02,0.03,0.04,0.05,0.06,0.07,0.08,0.09,0.1,0.2,0.3,0.4,0.5,0.6,0.7,0.8,0.9,1],"labelExpr":"datum.value == 1 ? '1' : datum.value == 0.1 ? '0.1' : datum.value == 0.01 ? '0.01' : ''","tickSize":{"condition":{"test":"datum.value == 1 || datum.value == 0.1 || datum.value == 0.01","value":-9},"value":-5},"labelPadding":10,"title":null}},
"color":{"field":"s","type":"nominal","scale":{"domain":["W1","W2","W3","W4","W5","W6","W7","W8"],"range":["#000000","#ffa500","#006400","#00008b","#c04000","#c000ff","#0000ff","#ff0000"]},
"legend":{"orient":"none","legendX":14,"legendY":3,"title":null,"labelFont":"Liberation Serif","labelFontSize":24,"labelColor":"black","symbolType":"circle","symbolSize":30,"symbolStrokeWidth":1,"symbolFillColor":"transparent","rowPadding":0.8,"labelOffset":-1}}}},
{"data":{"name":"RP"},"mark":{"type":"point","shape":"circle","filled":false,"size":34,"strokeWidth":1,"opacity":1},
"encoding":{
"x":{"field":"t","type":"quantitative","scale":{"type":"log","domain":[1000,10000],"nice":false},
"axis":{"orient":"top","values":[2000,3000,4000,5000,6000,7000,8000,9000],"labels":false,"tickSize":-4,"title":null}},
"y":{"field":"c","type":"quantitative","scale":{"type":"log","domain":[0.01,1],"nice":false},
"axis":{"orient":"right","values":[0.02,0.03,0.04,0.05,0.06,0.07,0.08,0.09,0.1,0.2,0.3,0.4,0.5,0.6,0.7,0.8,0.9],"labels":false,"tickSize":{"condition":{"test":"datum.value == 0.1","value":-9},"value":-5},"title":null}},
"color":{"field":"s","type":"nominal","scale":{"domain":["W1","W2","W3","W4","W5","W6","W7","W8"],"range":["#000000","#ffa500","#006400","#00008b","#c04000","#c000ff","#0000ff","#ff0000"]},
"legend":{"orient":"none","legendX":14,"legendY":3,"title":null,"labelFont":"Liberation Serif","labelFontSize":24,"labelColor":"black","symbolType":"circle","symbolSize":30,"symbolStrokeWidth":1,"symbolFillColor":"transparent","rowPadding":0.8,"labelOffset":-1}}}}
]}
]
}
